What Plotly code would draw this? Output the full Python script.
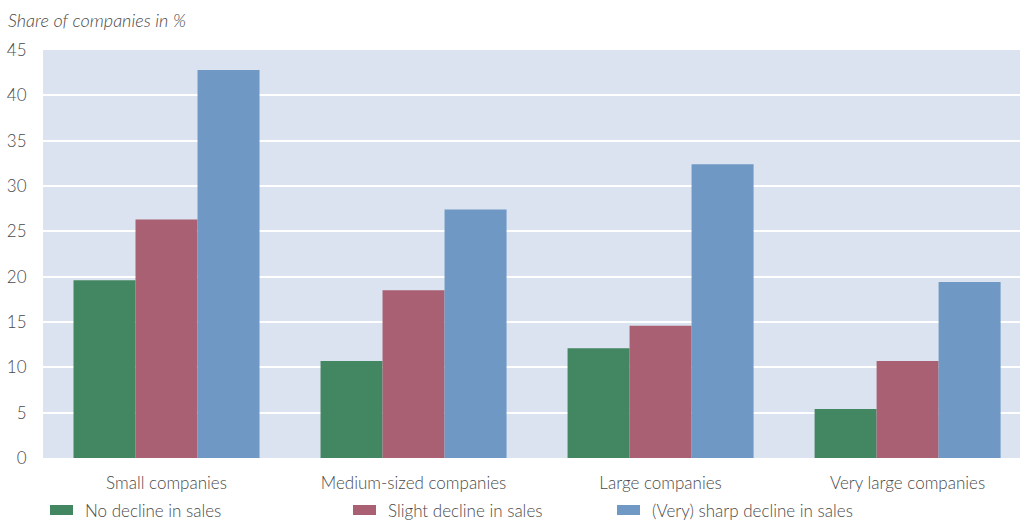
import plotly.graph_objects as go

categories = ["Small companies", "Medium-sized companies", "Large companies", "Very large companies"]
series_names = ["No decline in sales", "Slight decline in sales", "(Very) sharp decline in sales"]
no_decline = [19.6, 10.7, 12.1, 5.4]
slight_decline = [26.3, 18.5, 14.6, 10.7]
sharp_decline = [42.8, 27.4, 32.4, 19.4]
y_ticks = [0, 5, 10, 15, 20, 25, 30, 35, 40, 45]

colors = ["#438762", "#a86072", "#6f99c4"]
font_family = "Lato"
text_color = "#4a4a4a"

PLOT_W = 977
PLOT_H = 408

fig = go.Figure()
for name, vals, col in zip(series_names, [no_decline, slight_decline, sharp_decline], colors):
    fig.add_trace(go.Bar(x=categories, y=vals, name=name, marker=dict(color=col, line=dict(width=0)),
                         showlegend=False))

# Legend row: swatches and labels placed under the axis
legend_x = [50, 353, 617]
for name, col, x0 in zip(series_names, colors, legend_x):
    fig.add_shape(type="rect", xref="paper", yref="paper",
                  x0=(x0 - 43) / PLOT_W, x1=(x0 + 23 - 43) / PLOT_W,
                  y0=-57 / PLOT_H, y1=-47 / PLOT_H,
                  fillcolor=col, line=dict(width=0), layer="above")
    fig.add_annotation(text=name, xref="paper", yref="paper",
                       x=(x0 + 33 - 43) / PLOT_W, y=-52 / PLOT_H,
                       xanchor="left", yanchor="middle", showarrow=False,
                       font=dict(family=font_family, size=17, color=text_color, weight=300))

fig.add_annotation(text="<i>Share of companies in %</i>", xref="paper", yref="paper",
                   x=-37 / PLOT_W, y=1 + 30 / PLOT_H, xanchor="left", yanchor="middle",
                   showarrow=False,
                   font=dict(family=font_family, size=18, color=text_color, weight=300))

fig.update_layout(
    width=1020, height=521,
    margin=dict(l=43, r=0, t=50, b=63),
    barmode="group", bargap=0.247, bargroupgap=0,
    plot_bgcolor="#dae3ef", paper_bgcolor="white",
    font=dict(family=font_family, size=17, color=text_color, weight=300),
    xaxis=dict(range=[-0.5, 3.455], showgrid=False, zeroline=False, showline=False,
               ticks="outside", ticklen=10, tickcolor="rgba(0,0,0,0)",
               tickfont=dict(size=17, weight=300)),
    yaxis=dict(range=[0, 45], tickvals=y_ticks, showgrid=True, gridcolor="white", gridwidth=2,
               zeroline=False, showline=False, ticks="outside", ticklen=12,
               tickcolor="rgba(0,0,0,0)", tickfont=dict(size=17, weight=300)),
)

fig.write_html("out.html")
